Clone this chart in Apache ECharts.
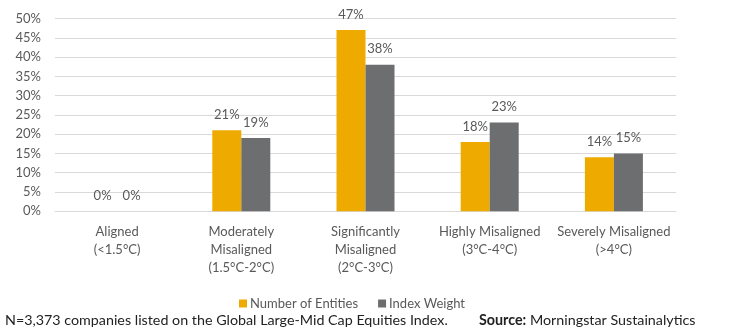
<!DOCTYPE html>
<html>
<head>
<meta charset="utf-8">
<script src="https://cdn.jsdelivr.net/npm/echarts@6/dist/echarts.min.js"></script>
<style>html,body{margin:0;padding:0;background:#fff;}#c{width:729px;height:334px;}</style>
</head>
<body>
<div id="c"></div>
<script>
const categories = ['Aligned\n(<1.5°C)', 'Moderately\nMisaligned\n(1.5°C-2°C)', 'Significantly\nMisaligned\n(2°C-3°C)', 'Highly Misaligned\n(3°C-4°C)', 'Severely Misaligned\n(>4°C)'];
const seriesNames = ['Number of Entities', 'Index Weight'];
const numberOfEntities = [0, 21, 47, 18, 14];
const indexWeight = [0, 19, 38, 23, 15];
const footnote = 'N=3,373 companies listed on the Global Large-Mid Cap Equities Index.';
const sourceLabel = 'Source:';
const sourceText = ' Morningstar Sustainalytics';

const FONT = 'Lato';
const TXT = '#595959';
const chart = echarts.init(document.getElementById('c'));
const labelCfg = {show: true, position: 'top', distance: 9, formatter: '{c}%', color: TXT, fontFamily: FONT, fontSize: 13};
chart.setOption({
  animation: false,
  grid: {left: 55, right: 53, top: 18.5, bottom: 122.7, containLabel: false},
  legend: {
    left: 234, top: 292, itemWidth: 8, itemHeight: 8, itemGap: 20,
    icon: 'rect',
    textStyle: {color: TXT, fontFamily: FONT, fontSize: 13, padding: [0,0,0,-2]},
    data: seriesNames
  },
  xAxis: {
    type: 'category', data: categories,
    axisTick: {show: false},
    axisLine: {lineStyle: {color: '#D9D9D9', width: 1}},
    axisLabel: {color: TXT, fontFamily: FONT, fontSize: 13, lineHeight: 18, margin: 12, interval: 0}
  },
  yAxis: {
    type: 'value', min: 0, max: 50, interval: 5,
    axisLabel: {formatter: '{value}%', color: TXT, fontFamily: FONT, fontSize: 13, margin: 14},
    splitLine: {lineStyle: {color: '#D9D9D9', width: 1}},
    axisLine: {show: false}, axisTick: {show: false}
  },
  series: [
    {name: seriesNames[0], type: 'bar', data: numberOfEntities, barWidth: 29, barGap: '0%', itemStyle: {color: '#EFAA00'}, label: labelCfg},
    {name: seriesNames[1], type: 'bar', data: indexWeight, barWidth: 29, itemStyle: {color: '#6C6E70'}, label: labelCfg}
  ],
  graphic: [
    {type: 'text', left: 5, top: 313, style: {text: footnote, fill: '#222', font: '14.3px Lato'}},
    {type: 'text', left: 479, top: 313, style: {
      text: '{b|' + sourceLabel + '}{n|' + sourceText + '}',
      rich: {b: {fontWeight: 'bold', fill: '#222', fontFamily: FONT, fontSize: 14.3}, n: {fill: '#222', fontFamily: FONT, fontSize: 14.3}}
    }}
  ]
});
</script>
</body>
</html>
